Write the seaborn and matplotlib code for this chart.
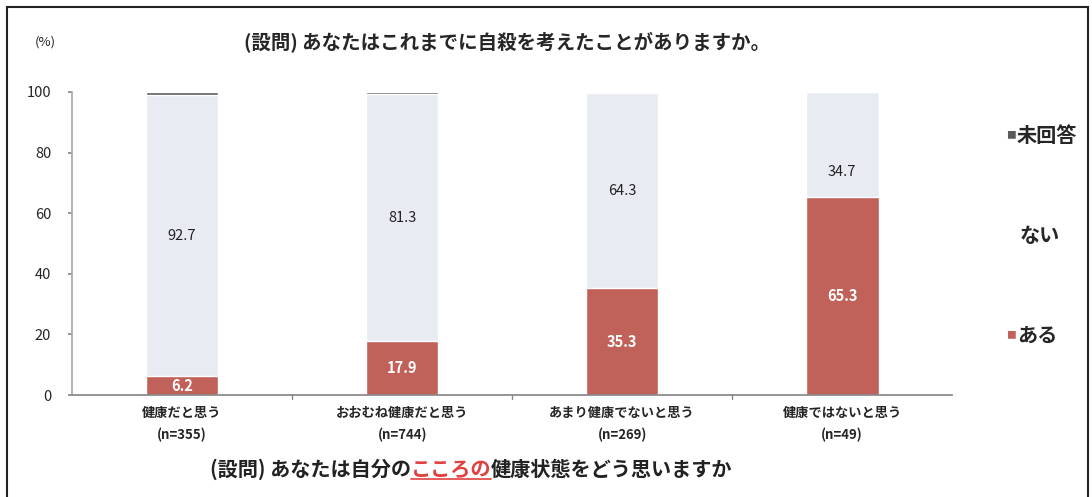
import matplotlib.pyplot as plt
import seaborn as sns
import pandas as pd
from matplotlib.patches import Rectangle

categories = ['健康だと思う\n(n=355)', 'おおむね健康だと思う\n(n=744)',
              'あまり健康でないと思う\n(n=269)', '健康ではないと思う\n(n=49)']
aru = [6.2, 17.9, 35.3, 65.3]
nai = [92.7, 81.3, 64.3, 34.7]
mikaito = [1.1, 0.8, 0.4, 0.0]

c_aru = '#c0625a'
c_nai = '#e8ecf2'
c_mi = '#5a5a5a'

sns.set_theme(style='white')
plt.rcParams['font.family'] = ['Noto Sans CJK JP', 'DejaVu Sans']

df = pd.DataFrame({'cat': categories, 'aru': aru, 'nai': nai, 'mi': mikaito})
df['top2'] = df['aru'] + df['nai']
df['top3'] = df['top2'] + df['mi']

fig = plt.figure(figsize=(10.92, 4.97), dpi=100)
ax = fig.add_axes([0.066, 0.205, 0.806, 0.61])

sns.barplot(data=df, x='cat', y='top3', color=c_mi, width=0.33, ax=ax, saturation=1)
sns.barplot(data=df, x='cat', y='top2', color=c_nai, width=0.33, ax=ax, saturation=1)
sns.barplot(data=df, x='cat', y='aru', color=c_aru, width=0.33, ax=ax, saturation=1)

for i, row in df.iterrows():
    ax.text(i, row['aru'] / 2, f"{row['aru']:.1f}", ha='center', va='center',
            color='white', fontsize=10.5, fontweight='bold')
    ax.text(i, row['aru'] + row['nai'] / 2 + (-9 if i == 3 else 0),
            f"{row['nai']:.1f}", ha='center', va='center',
            color='#222222', fontsize=10.5)

ax.set_ylim(0, 100)
ax.set_xlim(-0.5, 3.5)
ax.set_yticks([0, 20, 40, 60, 80, 100])
ax.tick_params(axis='y', labelsize=10.5, length=3, color='#888888', left=True, pad=12)
ax.set_xticks([0, 1, 2, 3])
ax.set_xticklabels(categories, fontsize=9.5, fontweight='bold', linespacing=1.7)
ax.tick_params(axis='x', length=0, pad=8)
for b in [0.5, 1.5, 2.5]:
    ax.plot([b, b], [0, -1.2], color='#888888', lw=1, clip_on=False)
ax.set_xlabel('')
ax.set_ylabel('')
for s in ['top', 'right']:
    ax.spines[s].set_visible(False)
ax.spines['left'].set_color('#aaaaaa')
ax.spines['bottom'].set_color('#888888')

fig.text(0.032, 0.915, '(%)', fontsize=9.5, ha='left', va='center')
fig.text(0.223, 0.915, '(設問) あなたはこれまでに自殺を考えたことがありますか。',
         fontsize=14, fontweight='bold', ha='left', va='center')

# legend
fig.text(0.93, 0.728, '■', color=c_mi, fontsize=7, ha='right', va='center')
fig.text(0.931, 0.728, '未回答', fontsize=14.5, fontweight='bold', ha='left', va='center')
fig.text(0.934, 0.527, 'ない', fontsize=14.5, fontweight='bold', ha='left', va='center')
fig.text(0.93, 0.326, '■', color=c_aru, fontsize=7, ha='right', va='center')
fig.text(0.931, 0.326, 'ある', fontsize=14.5, fontweight='bold', ha='left', va='center')

# bottom question with highlighted part
parts = [('(設問) あなたは自分の', '#222222'), ('こころの', '#e04040'),
         ('健康状態をどう思いますか', '#222222')]
fig.canvas.draw()
renderer = fig.canvas.get_renderer()
x = 0.192
y = 0.055
for txt, col in parts:
    t = fig.text(x, y, txt, color=col, fontsize=14.5, fontweight='bold',
                 ha='left', va='center')
    bb = t.get_window_extent(renderer=renderer).transformed(fig.transFigure.inverted())
    if col != '#222222':
        fig.add_artist(plt.Line2D([bb.x0, bb.x1], [bb.y0 + 0.002, bb.y0 + 0.002],
                                  color=col, lw=1.2, transform=fig.transFigure))
    x = bb.x1

fig.add_artist(Rectangle((0.006, -0.01), 0.99, 0.996, transform=fig.transFigure,
                         fill=False, edgecolor='#222222', lw=1.5))

fig.savefig('out.png', dpi=100)
